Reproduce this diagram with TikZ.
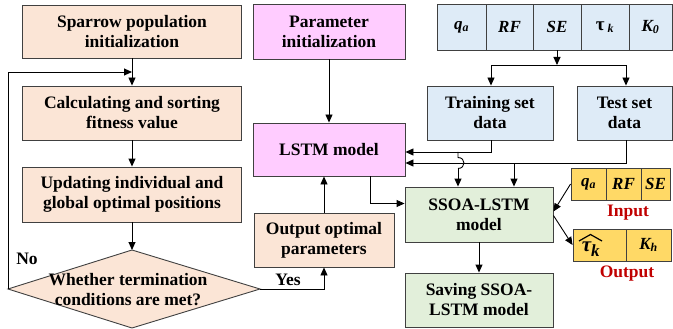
\documentclass[tikz,border=0pt]{standalone}
\usepackage{fontspec}
\setmainfont{Liberation Serif}
\usetikzlibrary{arrows.meta,calc}
\definecolor{peach}{HTML}{FBE5D6}
\definecolor{pinkbox}{HTML}{FFCCFF}
\definecolor{bluebox}{HTML}{DEEBF7}
\definecolor{greenbox}{HTML}{E2EFDA}
\definecolor{yellowbox}{HTML}{FFD966}
\definecolor{redlabel}{HTML}{C00000}
\definecolor{edge}{HTML}{404040}
\tikzset{
  box/.style={draw=edge, line width=0.9pt, inner sep=0pt, align=center,
    font=\bfseries\fontsize{17.5}{20}\selectfont},
  cell/.style={box, font=\bfseries\itshape\fontsize{17}{20}\selectfont},
  conn/.style={draw=black, line width=0.9pt},
  arr/.style={conn, -{Triangle[length=8pt,width=7pt]}},
  lbl/.style={font=\bfseries\fontsize{17.5}{20}\selectfont, inner sep=0pt},
}
\begin{document}
\begin{tikzpicture}[x=1pt,y=-1pt]
\useasboundingbox (0,0) rectangle (673,329);

% ---- sparrow search loop ----
\node[box, fill=peach, minimum width=219pt, minimum height=53pt] (sp) at (132,31.5)
  {Sparrow population\\initialization};
\node[box, fill=peach, minimum width=219pt, minimum height=54pt] (calc) at (132,113)
  {Calculating and sorting\\fitness value};
\node[box, fill=peach, minimum width=219pt, minimum height=55pt] (upd) at (132,194.5)
  {Updating individual and\\global optimal positions};
\coordinate (dT) at (132,250);
\coordinate (dL) at (8,289);
\coordinate (dR) at (260,289);
\coordinate (dB) at (132,328);
\draw[draw=edge, line width=0.9pt, fill=peach] (dT) -- (dR) -- (dB) -- (dL) -- cycle;
\node[lbl, align=center] (dtext) at (128,290) {Whether termination\\conditions are met?};

% ---- LSTM branch ----
\node[box, fill=pinkbox, minimum width=152pt, minimum height=55pt] (par) at (329,31.5)
  {Parameter\\initialization};
\node[box, fill=pinkbox, minimum width=152pt, minimum height=53pt] (lstm) at (329,149.5)
  {LSTM model};
\node[box, fill=peach, minimum width=140pt, minimum height=54pt] (out) at (324,240)
  {Output optimal\\parameters};

% ---- data table ----
\node[cell, fill=bluebox, minimum width=49pt, minimum height=46pt] (c1) at (461.5,27) {q\textsubscript{a}};
\node[cell, fill=bluebox, minimum width=47pt, minimum height=46pt] (c2) at (509.5,27) {RF};
\node[cell, fill=bluebox, minimum width=48pt, minimum height=46pt] (c3) at (557,27) {SE};
\node[cell, fill=bluebox, minimum width=48pt, minimum height=46pt] (c4) at (605,27)
  {\upshape\fontsize{19}{20}\selectfont τ\,\itshape\fontsize{17}{20}\selectfont\textsubscript{k}};
\node[cell, fill=bluebox, minimum width=43pt, minimum height=46pt] (c5) at (650.5,27) {K\textsubscript{0}};

\node[box, fill=bluebox, minimum width=126pt, minimum height=54pt] (train) at (490,113)
  {Training set\\data};
\node[box, fill=bluebox, minimum width=95pt, minimum height=54pt] (test) at (624.5,113)
  {Test set\\data};

% ---- SSOA-LSTM ----
\node[box, fill=greenbox, minimum width=148pt, minimum height=55pt] (ssoa) at (479,214.5)
  {SSOA-LSTM\\model};
\node[box, fill=greenbox, minimum width=148pt, minimum height=54pt] (save) at (479,300)
  {Saving SSOA-\\LSTM model};

% ---- input / output tables ----
\node[cell, fill=yellowbox, minimum width=35pt, minimum height=32pt] (iq) at (588.5,184) {q\textsubscript{a}};
\node[cell, fill=yellowbox, minimum width=35pt, minimum height=32pt] (ir) at (623.5,184) {RF};
\node[cell, fill=yellowbox, minimum width=29pt, minimum height=32pt] (is) at (655.5,184) {SE};
\node[lbl, text=redlabel] (inlbl) at (628,213) {Input};
\node[cell, fill=yellowbox, minimum width=53pt, minimum height=32pt] (ot) at (599.5,245) {};
\node[inner sep=0pt, font=\bfseries\itshape\fontsize{21}{20}\selectfont] (otxt) at (591,249)
  {τ\textsubscript{\fontsize{17}{20}\selectfont k}};
% circumflex over the predicted value
\coordinate (hatL) at (579,241);
\coordinate (hatT) at (590.5,234.5);
\coordinate (hatR) at (602,241);
\draw[line width=1.2pt, line join=round] (hatL) -- (hatT) -- (hatR);
\node[cell, fill=yellowbox, minimum width=45pt, minimum height=32pt] (ok) at (648.5,245) {K\textsubscript{h}};
\node[lbl, text=redlabel] (outlbl) at (627,274) {Output};

% ---- loop connectors ----
\coordinate (loopin) at ($(sp.south)!0.5!(calc.north)$);
\draw[arr] (sp.south) -- (calc.north);
\draw[arr] (calc.south) -- (upd.north);
\draw[arr] (upd.south) -- (dT);
\draw[arr] (dL) |- (loopin);
\node[lbl] (no) at (27,259) {No};
\draw[arr] (dR) -| (out.south);
\node[lbl] (yes) at (288,280) {Yes};
\draw[arr] (out.north) -- (lstm.south -| out.north);
\draw[arr] (par.south) -- (lstm.north);
\coordinate (lstmout) at (370,176);
\draw[arr] (lstmout) |- ($(ssoa.west)+(0,-11)$);
\draw[arr] (ssoa.south) -- (save.north);

% ---- data connectors ----
\coordinate (split) at (557,65);
\draw[arr] (c3.south) -- (split);
\draw[arr] (split) -| (train.north -| 491,0);
\draw[arr] (split) -| (test.north -| 626,0);
\draw[arr] (train.south -| 491,0) |- (lstm.east |- 0,152);
\draw[arr] (test.south -| 626,0) |- (lstm.east |- 0,163);
\draw[conn] (458,152) -- (458,157.5) .. controls (466,157.5) and (466,168.5) .. (458,168.5);
\draw[arr] (458,168.5) -- (ssoa.north -| 458,0);
\draw[arr] (514,163) -- (ssoa.north -| 514,0);

% ---- model I/O ----
\draw[arr] (iq.west) -- ($(ssoa.east)+(0,-3)$);
\draw[arr] ($(ssoa.east)+(0,1)$) -- (ot.west);
\end{tikzpicture}
\end{document}
